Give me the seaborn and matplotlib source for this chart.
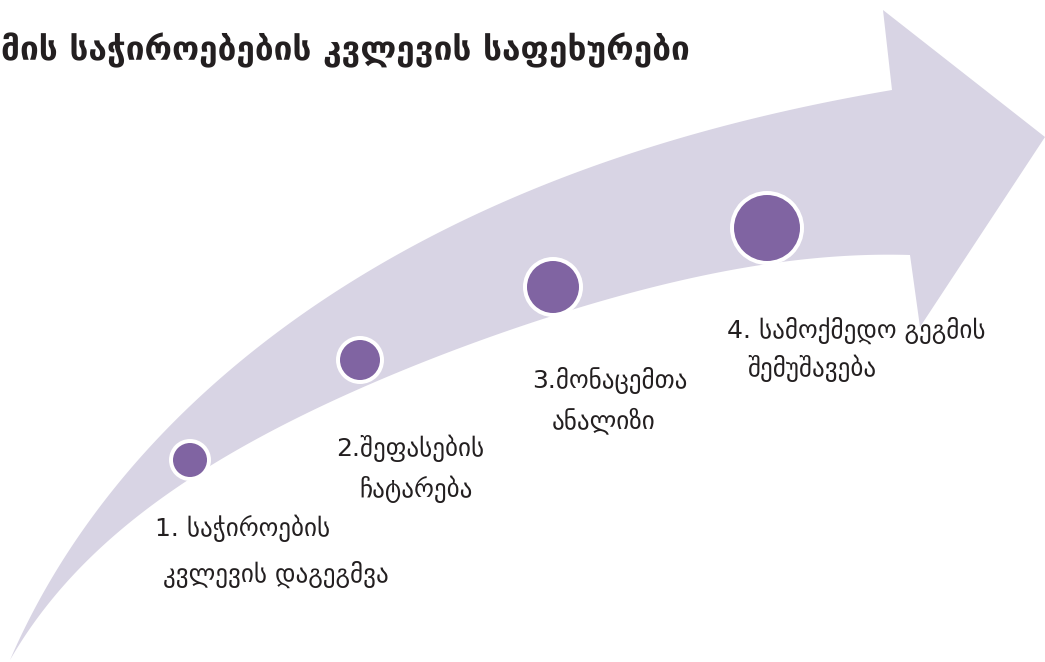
import numpy as np
import pandas as pd
import matplotlib
matplotlib.use("Agg")
import matplotlib.pyplot as plt
import seaborn as sns

# arrow outline (pixel coords, y down)
upper_x = [10, 33, 83, 133, 200, 267, 367, 500, 550, 683, 783, 892]
upper_y = [660, 617, 533, 463, 397, 337, 273, 207, 182, 135, 112, 90]
head_x = [883, 1045, 920, 910]
head_y = [10, 137, 327, 255]
lower_x = [10, 100, 150, 173, 300, 400, 450, 500, 583, 750, 910]
lower_y = [660, 552, 505, 486, 420, 373, 350, 332, 307, 267, 255]

# step markers
step_x = [190, 360, 553, 767]
step_y = [460, 360, 287, 228]
step_r = [17, 20, 26, 33]

title = "მის საჭიროებების კვლევის საფეხურები"
label_lines = [
    "1. საჭიროების", "კვლევის დაგეგმვა",
    "2.შეფასების", "ჩატარება",
    "3.მონაცემთა", "ანალიზი",
    "4. სამოქმედო გეგმის", "შემუშავება",
]
label_x = [155, 163, 410, 416, 610, 604, 727, 747]
label_y = [528, 574, 448, 489, 381, 421, 330, 368]
label_ha = ["left", "left", "center", "center", "center", "center", "left", "left"]

sns.set_style("white")
plt.rcParams['font.family'] = ['DejaVu Sans']


def smooth_edge(xp, yp, deg=4, n=300):
    # smooth parametric fit through the traced edge points
    xp = np.asarray(xp, float)
    yp = np.asarray(yp, float)
    d = np.r_[0, np.cumsum(np.hypot(np.diff(xp), np.diff(yp)))]
    t = d / d[-1]
    w = np.ones_like(t)
    w[[0, -1]] = 20  # pin the ends
    cx = np.polyfit(t, xp, deg, w=w)
    cy = np.polyfit(t, yp, deg, w=w)
    tt = np.linspace(0, 1, n)
    return list(np.polyval(cx, tt)), list(np.polyval(cy, tt))


fig = plt.figure(figsize=(10.45, 6.62), dpi=100)
ax = fig.add_axes([0, 0, 1, 1])
ax.set_xlim(0, 1045)
ax.set_ylim(662, 0)
ax.axis("off")

ux, uy = smooth_edge(upper_x, upper_y)
lx, ly = smooth_edge(lower_x, lower_y)
xs = ux + head_x + lx[::-1]
ys = uy + head_y + ly[::-1]
ax.fill(xs, ys, color="#d8d4e4", lw=0, zorder=1)

steps = pd.DataFrame({"x": step_x, "y": step_y})
px2pt = 72 / 100
outer = [(2 * (r + 4) * px2pt) ** 2 for r in step_r]
inner = [(2 * r * px2pt) ** 2 for r in step_r]
sns.scatterplot(data=steps, x="x", y="y", s=outer, color="white",
                edgecolor="none", ax=ax, zorder=2, legend=False)
sns.scatterplot(data=steps, x="x", y="y", s=inner, color="#8064a2",
                edgecolor="none", ax=ax, zorder=3, legend=False)

for txt, x, y, ha in zip(label_lines, label_x, label_y, label_ha):
    ax.text(x, y, txt, ha=ha, va="center", fontsize=18, color="#231f20", zorder=4)

ax.text(1, 50, title, ha="left", va="center", fontsize=24,
        color="#231f20", fontweight="bold", zorder=4)

fig.savefig("out.png", dpi=100)
